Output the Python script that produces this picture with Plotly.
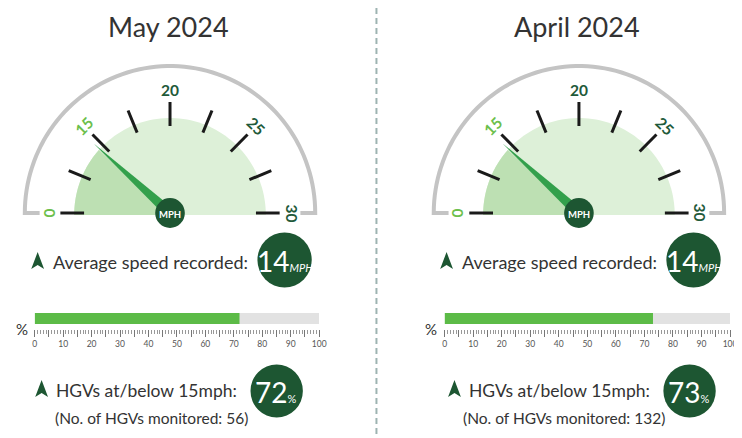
import numpy as np
import plotly.graph_objects as go

# ---------------- data ----------------
months = ["May 2024", "April 2024"]
avg_speed_mph = [14, 14]
pct_at_below_15mph = [72, 73]
hgvs_monitored = [56, 132]
gauge_tick_values = [0, 7.5, 15, 17.5, 20, 22.5, 25, 27.5, 30]
gauge_label_values = [0, 15, 20, 25, 30]
pct_tick_labels = list(range(0, 101, 10))

# ---------------- styling ----------------
W, H = 742, 438
OFF = 8  # default page body margin
FW, FH = W - OFF, H - OFF
FONT = "Lato, 'Noto Sans', sans-serif"
DARK = "#1d5632"
LABEL_DARK = "#1f5a3a"
LABEL_LIGHT = "#6cbf4c"
BAR_GREEN = "#5cbb47"
BAR_GREY = "#e2e2e2"
NEEDLE = "#33a04c"
FILL_LIGHT = "#ddf0d8"
FILL_WEDGE = "#bde0b3"
ARC_GREY = "#c4c4c4"
TXT = "#333333"

panel_dx = [0, 414]
bottom_dx = [0, 4]

fig = go.Figure()
shapes = []
ann = []

def angle_of(v):
    return float(np.interp(v, gauge_tick_values,
                           np.linspace(180, 0, len(gauge_tick_values))))

def pt(cx, cy, r, a):
    t = np.radians(a)
    return cx + r * np.cos(t), cy - r * np.sin(t)

def arc_path(cx, cy, r, a0, a1, n=80):
    pts = [pt(cx, cy, r, a) for a in np.linspace(a0, a1, n)]
    return " ".join(f"L{x:.2f},{y:.2f}" for x, y in pts)

def sector(cx, cy, r, a0, a1, color):
    path = f"M{cx},{cy} " + arc_path(cx, cy, r, a0, a1) + " Z"
    return dict(type="path", path=path, xref="x", yref="y",
                fillcolor=color, line=dict(width=0), layer="above")

def arrow_icon(tx, ty):
    path = (f"M{tx},{ty-9} L{tx+6.5},{ty+8} L{tx},{ty+4} L{tx-6.5},{ty+8} Z")
    return dict(type="path", path=path, xref="x", yref="y",
                fillcolor=DARK, line=dict(width=0))

def circle(cx, cy, r, color):
    return dict(type="circle", xref="x", yref="y", x0=cx - r, x1=cx + r,
                y0=cy - r, y1=cy + r, fillcolor=color, line=dict(width=0))

for i in range(2):
    dx = panel_dx[i]
    bx = bottom_dx[i]
    cx, cy = 170 + dx, 213

    # title
    ann.append(dict(x=168 + dx, y=26, text=months[i], showarrow=False,
                    font=dict(family=FONT, size=27, color=TXT),
                    xanchor="center", yanchor="middle"))

    # outer grey arc with feet
    R = 147
    p = f"M{cx-R+15},{cy} L{cx-R},{cy} " + arc_path(cx, cy, R, 180, 0) + f" L{cx+R-15},{cy}"
    shapes.append(dict(type="path", path=p, xref="x", yref="y",
                       fillcolor="rgba(0,0,0,0)",
                       line=dict(color=ARC_GREY, width=4)))

    # fill + wedge
    a_need = angle_of(avg_speed_mph[i])
    shapes.append(sector(cx, cy + 2, 97, 180, 0, FILL_LIGHT))
    shapes.append(sector(cx, cy + 2, 97, 180, a_need, FILL_WEDGE))

    # ticks
    for v in gauge_tick_values:
        a = angle_of(v)
        x0, y0 = pt(cx, cy, 87, a)
        x1, y1 = pt(cx, cy, 111, a)
        shapes.append(dict(type="line", xref="x", yref="y", x0=x0, y0=y0,
                           x1=x1, y1=y1, line=dict(color="#1a1a1a", width=3)))

    # labels
    for v in gauge_label_values:
        a = angle_of(v)
        lx, ly = pt(cx, cy, 123, a)
        col = LABEL_LIGHT if v <= 15 else LABEL_DARK
        ann.append(dict(x=lx, y=ly, text=f"<b>{v}</b>", showarrow=False,
                        textangle=90 - a,
                        font=dict(family=FONT, size=15.5, color=col),
                        xanchor="center", yanchor="middle"))

    # needle
    tx, ty = pt(cx, cy, 104, a_need)
    t = np.radians(a_need)
    px_, py_ = np.sin(t), np.cos(t)
    hw = 5.5
    p = (f"M{cx+hw*px_:.2f},{cy+hw*py_:.2f} L{tx:.2f},{ty:.2f} "
         f"L{cx-hw*px_:.2f},{cy-hw*py_:.2f} Z")
    shapes.append(dict(type="path", path=p, xref="x", yref="y",
                       fillcolor=NEEDLE, line=dict(width=0)))

    # hub
    shapes.append(circle(cx, cy, 15, DARK))
    ann.append(dict(x=cx, y=cy + 1, text="<b>MPH</b>", showarrow=False,
                    font=dict(family=FONT, size=9.5, color="white"),
                    xanchor="center", yanchor="middle"))

    # average speed row
    ry = 260
    shapes.append(arrow_icon(36 + dx, ry + 1))
    ann.append(dict(x=251 + dx, y=ry + 2, text="Average speed recorded:",
                    showarrow=False, xanchor="right", yanchor="middle",
                    font=dict(family=FONT, size=18, color=TXT)))
    shapes.append(circle(286 + dx, ry, 27.5, DARK))
    ann.append(dict(x=286 + dx, y=ry + 1,
                    text=f"<span style='font-size:28px'>{avg_speed_mph[i]}</span>"
                         f"<i><span style='font-size:11px'>MPH</span></i>",
                    showarrow=False, xanchor="center", yanchor="middle",
                    font=dict(family=FONT, size=28, color="white")))

    # percent sign
    ann.append(dict(x=20 + dx, y=329, text="%", showarrow=False,
                    xanchor="center", yanchor="middle",
                    font=dict(family=FONT, size=15, color=TXT)))

    # HGV row
    hy = 389
    shapes.append(arrow_icon(40 + dx + bx, hy))
    ann.append(dict(x=240 + dx + bx, y=hy + 1, text="HGVs at/below 15mph:",
                    showarrow=False, xanchor="right", yanchor="middle",
                    font=dict(family=FONT, size=17.5, color=TXT)))
    shapes.append(circle(278 + dx + bx, hy + 2, 26.5, DARK))
    ann.append(dict(x=277 + dx + bx, y=hy + 3,
                    text=f"<span style='font-size:28px'>{pct_at_below_15mph[i]}</span>"
                         f"<span style='font-size:11px'>%</span>",
                    showarrow=False, xanchor="center", yanchor="middle",
                    font=dict(family=FONT, size=28, color="white")))
    ann.append(dict(x=151 + dx + bx, y=418,
                    text=f"(No. of HGVs monitored: {hgvs_monitored[i]})",
                    showarrow=False, xanchor="center", yanchor="middle",
                    font=dict(family=FONT, size=15.5, color=TXT)))

    # progress bar on its own axes
    xa = f"x{i+2}"
    ya = f"y{i+2}"
    fig.add_trace(go.Bar(x=[100], y=[10.5], width=[11], orientation="h",
                         marker=dict(color=BAR_GREY, line=dict(width=0)),
                         xaxis=xa, yaxis=ya, hoverinfo="skip", showlegend=False))
    fig.add_trace(go.Bar(x=[pct_at_below_15mph[i]], y=[10.5], width=[11],
                         orientation="h",
                         marker=dict(color=BAR_GREEN, line=dict(width=0)),
                         xaxis=xa, yaxis=ya, hoverinfo="skip", showlegend=False))
    x0p = 33 + dx + (1 if i else 0)
    x1p = 321 + dx + (2 if i else 0)
    fig.layout[f"xaxis{i+2}"] = dict(
        domain=[(x0p - OFF) / FW, (x1p - OFF) / FW], range=[0, 100], anchor=ya,
        showgrid=False, zeroline=False, showline=False, fixedrange=True,
        tickvals=list(range(0, 101, 5)),
        ticktext=[str(v) if v in pct_tick_labels else "" for v in range(0, 101, 5)],
        ticks="outside", ticklen=7, tickwidth=1, tickcolor="#777",
        tickfont=dict(family=FONT, size=8.5, color="#555"),
        minor=dict(dtick=1, ticks="outside", ticklen=4, tickwidth=1,
                   tickcolor="#999", showgrid=False),
    )
    fig.layout[f"yaxis{i+2}"] = dict(
        domain=[(H - 329) / FH, (H - 313) / FH], range=[0, 16], anchor=xa,
        visible=False, fixedrange=True,
    )

# divider
shapes.append(dict(type="line", xref="x", yref="y", x0=379, x1=379, y0=8, y1=438,
                   line=dict(color="#9db3b1", width=2, dash="6px,4px")))

# invisible trace for the base pixel axes
fig.add_trace(go.Scatter(x=[OFF, W], y=[OFF, H], mode="markers",
                         marker=dict(opacity=0), hoverinfo="skip",
                         showlegend=False))

fig.update_layout(
    width=FW, height=FH, margin=dict(l=0, r=0, t=0, b=0),
    paper_bgcolor="white", plot_bgcolor="white",
    barmode="overlay",
    xaxis=dict(range=[OFF, W], visible=False, domain=[0, 1], fixedrange=True),
    yaxis=dict(range=[H, OFF], visible=False, domain=[0, 1], fixedrange=True),
    shapes=shapes, annotations=ann, showlegend=False,
)

fig.write_html("out.html")
